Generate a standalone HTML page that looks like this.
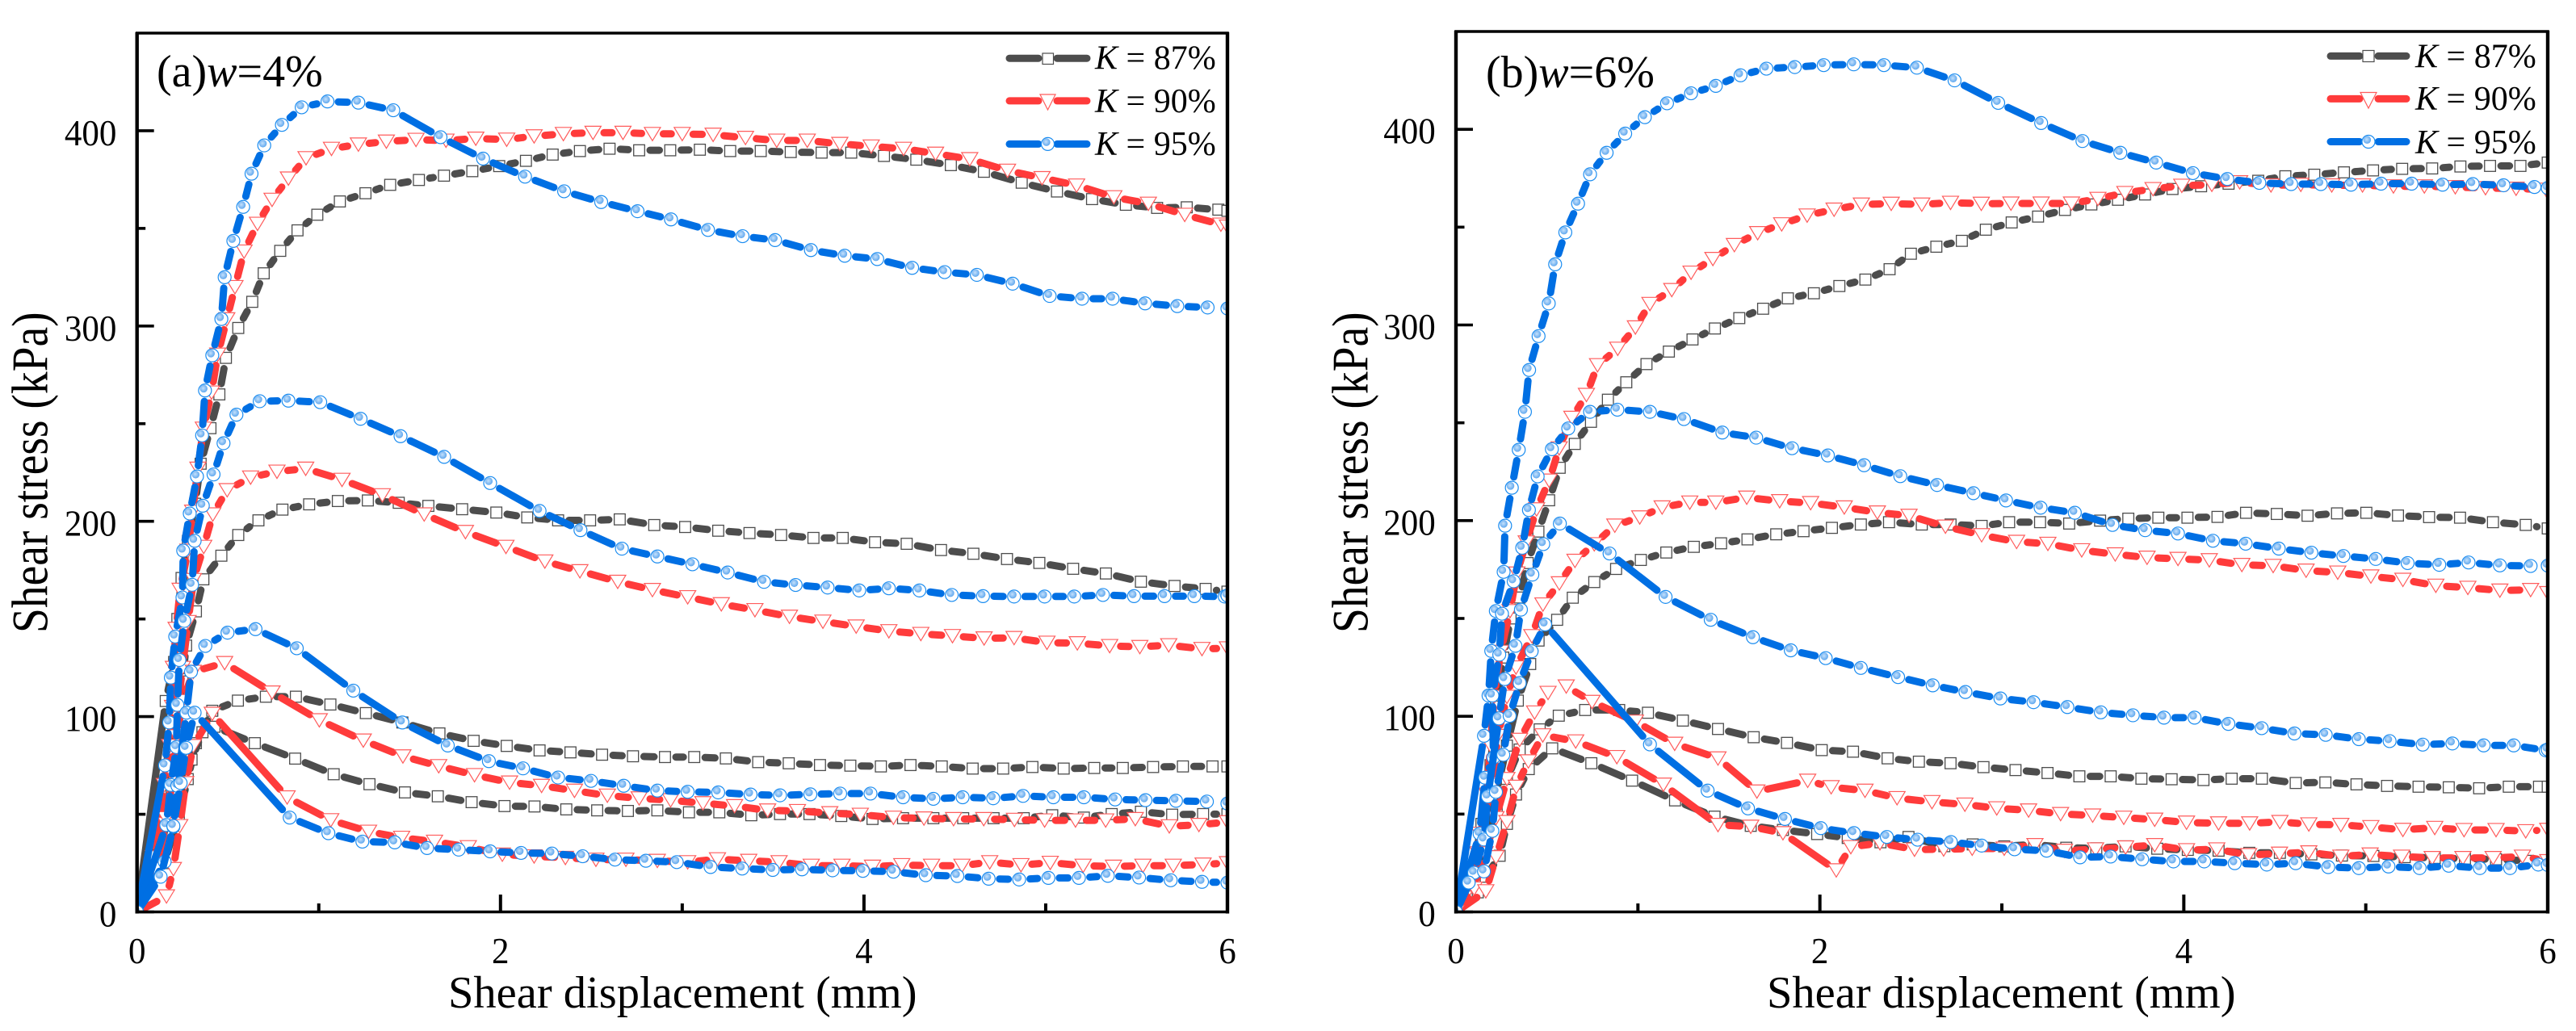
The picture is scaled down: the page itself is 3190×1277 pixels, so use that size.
<!DOCTYPE html>
<html lang="en">
<head>
<meta charset="utf-8">
<title>Shear stress vs shear displacement</title>
<style>
html,body{margin:0;padding:0;background:#fff;}
svg{display:block;}
text{font-family:"Liberation Serif",serif;fill:#000;}
</style>
</head>
<body>
<svg id="chart" xmlns="http://www.w3.org/2000/svg" width="3190" height="1277" viewBox="0 0 3190 1277">
  <defs>
    <radialGradient id="ball" cx="45%" cy="45%" r="55%">
      <stop offset="0%" stop-color="#c4e0fb"/>
      <stop offset="65%" stop-color="#84bcf3"/>
      <stop offset="100%" stop-color="#5fa8ee"/>
    </radialGradient>
    <clipPath id="clip-a"><rect x="170" y="41" width="1350" height="1089"/></clipPath>
    <clipPath id="clip-b"><rect x="1803" y="39" width="1352" height="1091"/></clipPath>
  </defs>
  <rect x="0" y="0" width="3190" height="1277" fill="#fff"/>
  <g id="panel-a"></g>
  <g id="panel-b"></g>

  <text x="194" y="107" font-size="56">(a)<tspan font-style="italic">w</tspan>=4%</text>
  <text x="1840" y="108" font-size="56">(b)<tspan font-style="italic">w</tspan>=6%</text>

  <text x="555" y="1248" font-size="56.5">Shear displacement (mm)</text>
  <text x="2188" y="1248" font-size="56.5">Shear displacement (mm)</text>
  <text transform="translate(58.7,784) rotate(-90) scale(1,1.14)" font-size="55.5">Shear stress (kPa)</text>
  <text transform="translate(1693.6,784) rotate(-90) scale(1,1.14)" font-size="55.5">Shear stress (kPa)</text>

  <g>
    <g>
      <path d="M1250 72.2H1286M1309 72.2H1346" stroke="#4d4d4d" stroke-width="9" stroke-linecap="round" fill="none"/>
      <rect x="1291" y="66" width="13.5" height="13.5" fill="#fff" stroke="#4d4d4d" stroke-width="1.2"/>
      <text x="1356" y="85.7" font-size="42"><tspan font-style="italic">K</tspan> = 87%</text>
    </g>
    <g>
      <path d="M1250 124.9H1286M1309 124.9H1346" stroke="#ff3b3b" stroke-width="9" stroke-linecap="round" fill="none"/>
      <path d="M1288 117L1307 117L1297.5 136Z" fill="#fff" stroke="#ff5c5c" stroke-width="1.2"/>
      <text x="1356" y="138.8" font-size="42"><tspan font-style="italic">K</tspan> = 90%</text>
    </g>
    <g>
      <path d="M1250 178.4H1286M1309 178.4H1346" stroke="#006fe3" stroke-width="9" stroke-linecap="round" fill="none"/>
      <circle cx="1297.5" cy="178.4" r="8" fill="#fff" stroke="#1a8cf0" stroke-width="1.2"/>
      <circle cx="1295.8" cy="176.1" r="4.8" fill="url(#ball)"/>
      <text x="1356" y="191.8" font-size="42"><tspan font-style="italic">K</tspan> = 95%</text>
    </g>
  </g>
  <g>
    <g>
      <path d="M2886 69.4H2922M2945 69.4H2980" stroke="#4d4d4d" stroke-width="9" stroke-linecap="round" fill="none"/>
      <rect x="2926" y="62.5" width="14" height="14" fill="#fff" stroke="#4d4d4d" stroke-width="1.2"/>
      <text x="2991" y="83.7" font-size="42"><tspan font-style="italic">K</tspan> = 87%</text>
    </g>
    <g>
      <path d="M2886 122.4H2922M2945 122.4H2980" stroke="#ff3b3b" stroke-width="9" stroke-linecap="round" fill="none"/>
      <path d="M2923 114.5L2943 114.5L2933 134Z" fill="#fff" stroke="#ff5c5c" stroke-width="1.2"/>
      <text x="2991" y="136" font-size="42"><tspan font-style="italic">K</tspan> = 90%</text>
    </g>
    <g>
      <path d="M2886 175.5H2922M2945 175.5H2980" stroke="#006fe3" stroke-width="9" stroke-linecap="round" fill="none"/>
      <circle cx="2933" cy="175.5" r="8" fill="#fff" stroke="#1a8cf0" stroke-width="1.2"/>
      <circle cx="2931.3" cy="173.2" r="4.8" fill="url(#ball)"/>
      <text x="2991" y="189.8" font-size="42"><tspan font-style="italic">K</tspan> = 95%</text>
    </g>
  </g>
</svg>
<script>
const xMajorTicks=[0,2,4,6];
const xMinorTicks=[1,3,5];
const yMajorTicks=[0,100,200,300,400];
const yMinorTicks=[50,150,250,350];

/* Panel (a) w = 4% */
const aK87L1X=[0,.158,.204,.222,.245,.28,.32,.35,.404,.453,.489,.557,.634,.697,.788,.883,.992,1.116,1.257,1.393,1.551,1.689,1.845,1.993,2.14,2.287,2.437,2.6,2.763,2.934,3.097,3.264,3.432,3.597,3.767,3.93,4.11,4.288,4.478,4.66,4.868,5.062,5.255,5.441,5.613,5.776,5.95,6];
const aK87L1Y=[0,108,128,150,171,190,209,229.5,247.7,265,283.7,299,312.4,327,338.5,349,357,363.8,368,372.3,374.8,377,379.3,381.9,384.6,387.8,389.6,390.8,390,390,390.3,389.6,389.6,389.1,388.8,388.8,387.1,385.2,382.4,379,373.4,368.9,365,362.1,360.5,360.8,359.6,359];
const aK87L2X=[0,.07,.14,.18,.22,.25,.27,.324,.365,.464,.557,.668,.80,.947,1.105,1.27,1.44,1.603,1.789,1.977,2.147,2.317,2.493,2.656,2.846,3.016,3.198,3.37,3.544,3.722,3.883,4.061,4.235,4.424,4.602,4.787,4.965,5.151,5.331,5.524,5.709,5.88,6];
const aK87L2Y=[0,20,60,80,100,118,136.4,153.9,170.3,182.4,193,200.5,206,208.7,210.4,210.7,209.5,207.9,206.2,204.5,202,200.5,200.5,201,198.1,197.1,195.2,194,193,191.5,191.5,189.3,188.5,185.3,183.4,180.7,178.7,175.7,173.3,169.1,166.9,165.4,164];
const aK87L3X=[0,.15,.23,.279,.324,.414,.555,.709,.874,1.064,1.259,1.46,1.664,1.852,2.034,2.215,2.385,2.559,2.729,2.905,3.066,3.24,3.418,3.586,3.758,3.925,4.093,4.256,4.428,4.598,4.766,4.927,5.099,5.267,5.424,5.591,5.755,5.918,6];
const aK87L3Y=[0,25,50,68,86.4,103,108.2,110.2,110.2,106.2,101.8,97,91.4,87.6,85,82.7,81.7,80.5,79.7,79.3,79.3,78.6,76.7,76.1,75.2,74.9,74.5,75.2,74.5,73.4,73.4,74.2,73.4,73.7,73.7,74.2,74.5,74.5,74.5];
const aK87L4X=[0,.12,.19,.30,.36,.426,.648,.87,1.082,1.279,1.474,1.655,1.841,2.022,2.187,2.362,2.532,2.701,2.863,3.037,3.204,3.38,3.538,3.70,3.875,4.047,4.215,4.382,4.546,4.713,4.879,5.036,5.21,5.363,5.524,5.696,5.866,6];
const aK87L4Y=[0,25,62,78,92,94.8,86.4,78.5,70.5,65.4,61.2,59.2,56.2,54.2,54,52.5,52,51.7,52,51,51,49.5,50.1,50.1,49.1,47.6,48,48,48,48,48,49.5,48.3,50.1,51.3,49.8,50.1,50];
const aK90L1X=[0,.04,.09,.15,.18,.195,.2,.215,.237,.28,.306,.335,.365,.41,.444,.494,.539,.589,.663,.743,.833,.93,1.07,1.218,1.372,1.535,1.70,1.864,2.034,2.185,2.346,2.509,2.674,2.836,3.0,3.17,3.348,3.52,3.688,3.867,4.04,4.218,4.394,4.582,4.79,4.98,5.17,5.375,5.565,5.765,5.964,6];
const aK90L1Y=[0,6,28,65,85,105,125,145,165,185,205,227,247.5,266,285.4,303.5,320,338.2,352.4,364.7,375.6,386,390.8,393,394.5,395.4,395,396,395.5,397.2,398.4,399,399,398.4,398.4,398,396.4,395,395,393.3,392,390.8,388.3,385.5,379.6,375.8,372,366,362.7,357,352,351];
const aK90L2X=[0,.1,.16,.18,.2,.225,.25,.281,.31,.367,.417,.496,.625,.77,.928,1.128,1.35,1.58,1.807,2.03,2.244,2.437,2.645,2.836,3.03,3.215,3.40,3.59,3.774,3.957,4.137,4.313,4.487,4.661,4.826,5.007,5.174,5.352,5.518,5.677,5.86,6];
const aK90L2Y=[0,20,45,65,85,105,125,148.5,170,187,203.6,216,222.5,225.5,227,221.3,213.4,203.6,194.6,187,179.5,174.5,169.1,164.9,161.2,157.6,154.6,151.2,148.7,146.2,143.8,142.4,141.3,140.1,140.3,137.9,137.6,136.2,135.7,136.6,134.7,135];
const aK90L3X=[0,.1,.16,.2,.22,.25,.31,.482,.743,1.003,1.245,1.463,1.66,1.857,2.05,2.226,2.407,2.588,2.763,2.936,3.114,3.288,3.47,3.634,3.812,3.98,4.162,4.33,4.493,4.659,4.828,4.994,5.164,5.33,5.493,5.68,5.843,6];
const aK90L3Y=[0,22,48,70,90,108,123,127.5,112.4,98.2,87.8,79.7,74.7,70.1,66.3,64.6,62.1,59.6,58.2,57.2,55.7,54.2,52,51.7,50.6,49.8,48.3,47.9,47.6,47.6,47.2,46.9,46.9,46.9,47.6,43.9,44.6,46];
const aK90L4X=[0,.162,.20,.235,.268,.31,.414,.826,1.066,1.274,1.456,1.637,1.823,2.01,2.185,2.357,2.525,2.69,2.863,3.03,3.194,3.366,3.533,3.71,3.879,4.047,4.208,4.372,4.539,4.692,4.864,5.025,5.206,5.373,5.535,5.702,5.866,6];
const aK90L4Y=[0,8,22,44,66,85,101.5,58.7,47,41.1,38,36,33.2,29.4,28.5,27.7,26.8,26.8,26.2,25.5,27,26.2,25.5,23.7,23.7,23.2,24,23.7,23.7,25.5,24,25.2,23.7,23.2,23.7,23.7,24.3,25];
const aK95L1X=[0,.154,.177,.186,.21,.25,.254,.29,.33,.358,.374,.414,.464,.482,.53,.584,.63,.70,.797,.906,1.048,1.218,1.41,1.67,1.904,2.135,2.35,2.554,2.754,2.938,3.142,3.332,3.511,3.708,3.894,4.073,4.265,4.444,4.621,4.818,5.022,5.2,5.368,5.547,5.724,5.891,6];
const aK95L1Y=[0,75,97,120,141,161,185,204,223,244,267,285,303.6,325,343.6,361,378,392.5,403,412,415,414.4,410.5,396.7,385.7,376.5,369,363.5,358.8,354.6,349.2,346,344,338.9,336,334.3,329.8,327.6,326.2,321.7,315.4,314,314,311.6,310.2,309.5,309];
const aK95L2X=[0,.161,.186,.217,.222,.233,.26,.303,.317,.362,.421,.476,.547,.675,.833,1.008,1.23,1.45,1.69,1.943,2.215,2.44,2.668,2.863,3.056,3.25,3.45,3.624,3.8,3.974,4.137,4.305,4.483,4.655,4.826,4.994,5.157,5.315,5.486,5.654,5.818,5.985,6];
const aK95L2Y=[0,44.5,65,84.4,106,129,149,167.5,190,208,224,240,254.6,261.5,261.8,261,252.5,243.6,233,219.6,205.3,195.5,186,182,178,173.8,169,167.4,166.1,164.6,165.7,164.6,162.3,161.7,161.5,161.5,161.5,162.3,161.7,161.7,161.7,161.5,162];
const aK95L3X=[0,.152,.2,.222,.272,.297,.376,.498,.652,.879,1.19,1.46,1.71,1.936,2.124,2.317,2.498,2.678,2.863,3.03,3.198,3.376,3.538,3.705,3.869,4.036,4.215,4.382,4.543,4.711,4.875,5.042,5.21,5.382,5.549,5.717,5.887,6];
const aK95L3Y=[0,25.7,43.6,64.6,102,123,136.2,143,144.8,135,113.3,97,85.2,77.2,73.5,68.8,67.1,64.6,62.1,61.5,61.2,60.1,59.7,60.2,60.6,60.6,58.7,57.9,58.7,58.2,59.4,58.7,58.7,57.6,57.2,56.9,56.5,55.5];
const aK95L4X=[0,.13,.2,.24,.27,.317,.84,1.053,1.24,1.418,1.596,1.77,1.943,2.113,2.283,2.452,2.63,2.8,2.97,3.156,3.33,3.498,3.659,3.827,3.994,4.162,4.34,4.514,4.686,4.854,5.015,5.183,5.342,5.514,5.688,5.86,6];
const aK95L4Y=[0,18,44,66,84,102,48.3,40.3,36,35.6,32.7,31.9,31,30.2,29.9,28.5,26.8,26.2,25.5,23,22.2,21.5,21.8,21.3,21,20.6,18.8,18.4,17,16.6,17.4,17.4,18.5,17.6,16.2,15.4,15];

/* Panel (b) w = 6% */
const bK87L1X=[0,.07,.14,.19,.22,.26,.3,.35,.394,.453,.512,.57,.653,.742,.835,.936,1.047,1.17,1.3,1.423,1.557,1.688,1.824,1.967,2.107,2.25,2.383,2.5,2.64,2.78,2.912,3.054,3.199,3.347,3.492,3.638,3.787,3.938,4.095,4.246,4.409,4.558,4.717,4.88,5.04,5.2,5.365,5.52,5.683,5.85,6];
const bK87L1Y=[0,8,45,75,105,130,150,160.7,178.3,194.4,210.4,227,239.2,250.5,261.8,270.7,280,286.4,292.6,298.2,303.5,308.3,313.6,316.2,319.9,323.2,328.5,336.4,340,343,348.7,352.4,355.4,358.8,361.6,364,366.7,369.5,370.9,372.2,373.7,376,376.8,378,379,379.8,380,381,381.3,381.3,383];
const bK87L2X=[0,.07,.14,.22,.28,.34,.408,.454,.556,.642,.76,.88,1.016,1.156,1.307,1.457,1.602,1.76,1.91,2.066,2.225,2.38,2.56,2.718,2.889,3.04,3.21,3.37,3.54,3.695,3.86,4.02,4.185,4.342,4.511,4.68,4.842,5.003,5.177,5.348,5.518,5.699,5.879,6];
const bK87L2Y=[0,8,30,60,85,108,126.7,138.7,149.3,160.6,168.6,175.3,179.9,183.7,186.6,188.4,190.4,193,194.6,196.3,198,199.2,198,198,197.3,199.2,199.2,198.5,200,201,201.5,201.5,201.9,204,203.4,202.5,203.7,204,202.6,201.8,201.5,199.2,197.8,196];
const bK87L3X=[0,.07,.158,.224,.28,.35,.46,.565,.71,.897,1.055,1.247,1.44,1.636,1.819,2.01,2.182,2.372,2.544,2.718,2.899,3.075,3.251,3.426,3.598,3.767,3.933,4.108,4.263,4.429,4.615,4.778,4.949,5.117,5.29,5.456,5.623,5.786,5.952,6];
const bK87L3Y=[0,10,35.6,51.4,68,83,93.3,100.3,103.2,103.2,101.8,97.8,93.5,89.3,86.4,82.7,81.9,78.5,76.8,76,74,72.5,71,69.3,69.3,68.1,67.8,67.4,68.1,68.1,65.9,66.2,65.2,64.4,64,63.7,63.2,64,64,64];
const bK87L4X=[0,.12,.164,.24,.28,.33,.40,.529,.744,.968,1.204,1.421,1.62,1.797,1.985,2.153,2.333,2.487,2.684,2.84,3.013,3.178,3.354,3.519,3.68,3.854,4.022,4.191,4.36,4.528,4.701,4.869,5.042,5.214,5.379,5.545,5.716,5.892,6];
const bK87L4Y=[0,10,18,28.7,45,60,73,83.6,76,67.1,57,48.7,44,41.9,39.8,37.8,35.6,38.3,33.6,34.5,33.5,34.5,32.8,32.5,33.5,32.3,31.7,31.3,30.2,30.2,29.4,28.8,28.6,28,27.6,27.2,26.9,26.1,26];
const bK90L1X=[0,.05,.12,.17,.19,.21,.246,.297,.335,.386,.443,.512,.567,.637,.717,.778,.889,.986,1.066,1.186,1.292,1.412,1.53,1.658,1.79,1.93,2.078,2.228,2.392,2.56,2.718,2.887,3.05,3.216,3.383,3.528,3.676,3.831,3.989,4.154,4.307,4.479,4.643,4.813,4.982,5.152,5.322,5.492,5.658,5.826,5.991];
const bK90L1Y=[0,8,30,60,85,110,133,153.8,173,188.9,205.8,220.5,237,252.6,264.3,279.5,287.9,298.8,310.8,317.9,326.8,333.8,340.9,347,351.5,356,359,361.6,362,361.6,362.5,362,362.1,362.1,362.1,364.5,367.5,369.5,371.2,371.7,373,371.4,371.7,371.4,371.4,370.9,370.9,370.5,370,369.7,369.2];
const bK90L2X=[0,.08,.13,.2,.23,.28,.33,.417,.478,.568,.654,.76,.873,1.01,1.133,1.285,1.428,1.598,1.779,1.949,2.134,2.316,2.49,2.69,2.889,3.081,3.253,3.439,3.623,3.798,3.968,4.14,4.319,4.491,4.672,4.846,5.028,5.204,5.385,5.561,5.737,5.906,6];
const bK90L2Y=[0,14,40,65,90,110,125,141,157.2,168,179.5,188,197.5,201.7,206.8,209.3,209.3,211.8,210,209,206.8,204.2,202.5,197,192.6,189.2,188.2,184.9,182.8,181.1,180.5,179.8,177.4,176.9,174.5,173.5,171.5,169.8,166.8,165.7,164.3,164.6,163];
const bK90L3X=[0,.1,.16,.22,.28,.35,.432,.506,.606,.748,.986,1.202,1.44,1.654,1.933,2.062,2.248,2.424,2.616,2.797,2.972,3.147,3.323,3.499,3.67,3.84,4.015,4.191,4.362,4.528,4.687,4.863,5.028,5.204,5.379,5.54,5.716,5.879,6];
const bK90L3Y=[0,12,30,48,68,88,102,112,115.3,107.4,97.3,86,78.5,61.6,67.1,63.8,62,58.2,56.2,54.9,53,51.9,50.1,49.3,48.2,47.2,45.7,45.3,45.3,46,44.8,44.5,43.4,42,43,41.9,41.9,41.3,42];
const bK90L4X=[0,.164,.22,.28,.332,.398,.477,.658,.884,1.14,1.44,1.62,1.797,2.09,2.17,2.33,2.52,2.68,2.837,3.013,3.182,3.344,3.515,3.68,3.84,4.015,4.181,4.356,4.526,4.687,4.863,5.024,5.197,5.365,5.534,5.7,5.861,6];
const bK90L4Y=[0,10.6,28,46,64,77,90.3,87.2,79.2,65.1,44.5,43.6,40.3,21.3,33.2,35.2,31.9,32,32.4,32.4,34.2,31.3,32,33,34.2,31.6,32,29.1,29.8,30.5,28.3,29.4,28.3,27.6,27.6,27.6,28.3,26];
const bK95L1X=[0,.154,.179,.194,.219,.262,.27,.307,.345,.379,.402,.454,.51,.545,.601,.671,.737,.828,.93,1.038,1.16,1.292,1.428,1.564,1.706,1.862,2.021,2.186,2.352,2.533,2.74,2.98,3.216,3.443,3.651,3.848,4.05,4.239,4.415,4.59,4.753,4.919,5.084,5.252,5.422,5.588,5.757,5.927,6];
const bK95L1Y=[0,90,110.6,133.4,153.8,173.8,197.4,216.8,236.2,255.6,277,294.3,311,331,347.3,362,377,388,397.8,406.2,413.3,418.4,422.2,427.6,431,431.8,432.8,433.2,432.8,431.5,425,413.5,403.2,394,388,383,377.6,374.6,372.6,372,372,371.7,372.2,372.2,371.7,372,371.4,370.5,370];
const bK95L2X=[0,.13,.16,.206,.2,.238,.253,.317,.364,.401,.449,.527,.617,.737,.887,1.066,1.253,1.464,1.65,1.847,2.044,2.243,2.442,2.644,2.844,3.023,3.213,3.401,3.608,3.788,3.968,4.16,4.34,4.522,4.701,4.877,5.055,5.23,5.404,5.565,5.737,5.906,6];
const bK95L2Y=[0,40,68.6,78.9,110.6,131.5,152.4,169,186.1,205.4,222.6,236.5,247.1,255.6,256.7,255.6,251.9,245,242.4,237,233.3,228.3,222.7,218.2,214,210.3,206.6,204,197.8,195.1,193.4,189.7,188.2,185.7,183.6,181.9,180.4,178.3,177.4,178.6,177.1,176.8,177];
const bK95L3X=[0,.1,.154,.175,.236,.268,.327,.357,.42,.48,.571,.844,1.152,1.40,1.632,1.84,2.032,2.225,2.43,2.62,2.8,2.992,3.174,3.36,3.544,3.72,3.891,4.059,4.245,4.428,4.608,4.78,4.962,5.131,5.313,5.476,5.648,5.813,5.989,6];
const bK95L3Y=[0,20,37,59,98.9,119,136,154.5,172.4,188,198.5,183.2,161,149.3,140.4,133.7,129.7,124.7,120,115.8,112.4,109.1,107.2,104.7,102,100.5,99.3,99.3,96.1,93.9,91.2,90.5,88.3,87.3,85.5,86.1,85.1,85.1,82.6,83];
const bK95L4X=[0,.07,.154,.2,.22,.26,.295,.35,.416,.49,1.066,1.383,1.605,1.808,2.005,2.187,2.368,2.537,2.72,2.889,3.07,3.246,3.43,3.598,3.771,3.943,4.112,4.28,4.456,4.615,4.794,4.962,5.125,5.296,5.456,5.627,5.793,5.948,6];
const bK95L4Y=[0,15,20.7,41.4,61.3,80.3,100.2,117,133.2,146.9,85.6,62,52.9,47.5,42.8,40.3,38.3,36.9,35.7,33.9,32,31.3,27.9,28.3,26.9,25.8,25.8,24.9,24.2,24.9,22.9,22.4,23.2,22.4,23.6,22.4,22.4,24.2,24];

const SVGNS='http://www.w3.org/2000/svg';
const panels=[
  {id:'panel-a',prefix:'a',clip:'clip-a',left:169.7,right:1520,top:41,bottom:1129.5,labelRight:144.4,baseOff:18,
   curves:[
    ['k87','#4d4d4d',aK87L1X,aK87L1Y],['k87','#4d4d4d',aK87L2X,aK87L2Y],['k87','#4d4d4d',aK87L3X,aK87L3Y],['k87','#4d4d4d',aK87L4X,aK87L4Y],
    ['k90','#ff3b3b',aK90L1X,aK90L1Y],['k90','#ff3b3b',aK90L2X,aK90L2Y],['k90','#ff3b3b',aK90L3X,aK90L3Y],['k90','#ff3b3b',aK90L4X,aK90L4Y],
    ['k95','#006fe3',aK95L1X,aK95L1Y],['k95','#006fe3',aK95L2X,aK95L2Y],['k95','#006fe3',aK95L3X,aK95L3Y],['k95','#006fe3',aK95L4X,aK95L4Y]]},
  {id:'panel-b',prefix:'b',clip:'clip-b',left:1803,right:3155,top:39,bottom:1129.5,labelRight:1777.8,baseOff:17.5,
   curves:[
    ['k87','#4d4d4d',bK87L1X,bK87L1Y],['k87','#4d4d4d',bK87L2X,bK87L2Y],['k87','#4d4d4d',bK87L3X,bK87L3Y],['k87','#4d4d4d',bK87L4X,bK87L4Y],
    ['k90','#ff3b3b',bK90L1X,bK90L1Y],['k90','#ff3b3b',bK90L2X,bK90L2Y],['k90','#ff3b3b',bK90L3X,bK90L3Y],['k90','#ff3b3b',bK90L4X,bK90L4Y],
    ['k95','#006fe3',bK95L1X,bK95L1Y],['k95','#006fe3',bK95L2X,bK95L2Y],['k95','#006fe3',bK95L3X,bK95L3Y],['k95','#006fe3',bK95L4X,bK95L4Y]]}
];

function make(tag,attrs,parent){
  const el=document.createElementNS(SVGNS,tag);
  for(const k in attrs){el.setAttribute(k,attrs[k]);}
  parent.appendChild(el);
  return el;
}
function drawMarker(kind,cx,cy,g){
  let el;
  if(kind==='k87'){
    el=make('rect',{x:cx-6.8,y:cy-6.8,width:13.6,height:13.6,fill:'#fff',stroke:'#4d4d4d','stroke-width':1.3},g);
    
    
  }else if(kind==='k90'){
    el=make('path',{d:'M'+(cx-10)+' '+(cy-8)+'L'+(cx+10)+' '+(cy-8)+'L'+cx+' '+(cy+8.5)+'Z',fill:'#fff',stroke:'#ff5c5c','stroke-width':1.2},g);
    
    
  }else{
    el=make('circle',{cx:cx,cy:cy,r:8,fill:'#fff',stroke:'#1a8cf0','stroke-width':1.2},g);
    
    
    const ball=make('circle',{cx:cx-1.7,cy:cy-2.3,r:4.8,fill:'url(#ball)'},g);
    
    
  }
}
function drawPanel(p){
  const root=document.getElementById(p.id);
  const xAxis=function(v){return p.left+(v/6)*(p.right-p.left);};
  const yAxis=function(v){return p.bottom-(v/450)*(p.bottom-p.top);};
  const plot=make('g',{'clip-path':'url(#'+p.clip+')'},root);
  
  
  const GAP=13.5;
  p.curves.forEach(function(c){
    const kind=c[0],color=c[1],xs=c[2],ys=c[3];
    const n=Math.min(xs.length,ys.length);
    const g=make('g',{},plot);
    
    
    let d='';
    for(let i=0;i<n-1;i++){
      const x1=xAxis(xs[i]),y1=yAxis(ys[i]),x2=xAxis(xs[i+1]),y2=yAxis(ys[i+1]);
      const dx=x2-x1,dy=y2-y1,len=Math.hypot(dx,dy);
      const startGap=i===0?2:GAP;
      if(len<=startGap+GAP){continue;}
      const ux=dx/len,uy=dy/len;
      d+='M'+(x1+ux*startGap).toFixed(1)+' '+(y1+uy*startGap).toFixed(1)+'L'+(x2-ux*GAP).toFixed(1)+' '+(y2-uy*GAP).toFixed(1);
    }
    const line=make('path',{d:d,fill:'none',stroke:color,'stroke-width':9,'stroke-linecap':'round'},g);
    
    
    for(let i=0;i<n;i++){
      drawMarker(kind,xAxis(xs[i]),yAxis(ys[i]),g);
    }
  });
  const axes=make('g',{fill:'#000'},root);
  
  
  const frame=make('path',{d:'M'+p.left+' '+p.bottom+'V'+p.top+'H'+p.right+'V'+p.bottom,fill:'none',stroke:'#000','stroke-width':3.6},axes);
  
  
  const base=make('line',{x1:p.left-2,x2:p.right+2,y1:p.bottom,y2:p.bottom,stroke:'#000','stroke-width':3.6},axes);
  
  
  const leftLine=make('line',{x1:p.left,x2:p.left,y1:p.top-1,y2:p.bottom+2,stroke:'#000','stroke-width':4.4},axes);
  
  
  const rightLine=make('line',{x1:p.right,x2:p.right,y1:p.top-1,y2:p.bottom+2,stroke:'#000','stroke-width':4.4},axes);
  
  
  xMajorTicks.forEach(function(v){
    const t=make('line',{x1:xAxis(v),x2:xAxis(v),y1:p.bottom,y2:p.bottom-21.5,stroke:'#000','stroke-width':4},axes);
    
    
    const l=make('text',{transform:'translate('+xAxis(v)+',1193) scale(1,1.06)','font-size':43,'text-anchor':'middle'},axes);
    
    
    l.textContent=String(v);
  });
  xMinorTicks.forEach(function(v){
    const t=make('line',{x1:xAxis(v),x2:xAxis(v),y1:p.bottom,y2:p.bottom-10.5,stroke:'#000','stroke-width':4},axes);
    
    
  });
  yMajorTicks.forEach(function(v){
    const t=make('line',{x1:p.left,x2:p.left+21,y1:yAxis(v),y2:yAxis(v),stroke:'#000','stroke-width':3.6},axes);
    
    
    const l=make('text',{transform:'translate('+p.labelRight+','+(yAxis(v)+p.baseOff)+') scale(1,1.06)','font-size':43,'text-anchor':'end'},axes);
    
    
    l.textContent=String(v);
  });
  yMinorTicks.forEach(function(v){
    const t=make('line',{x1:p.left,x2:p.left+10.5,y1:yAxis(v),y2:yAxis(v),stroke:'#000','stroke-width':3.6},axes);
    
    
  });
}
panels.forEach(drawPanel);
</script>
</body>
</html>
